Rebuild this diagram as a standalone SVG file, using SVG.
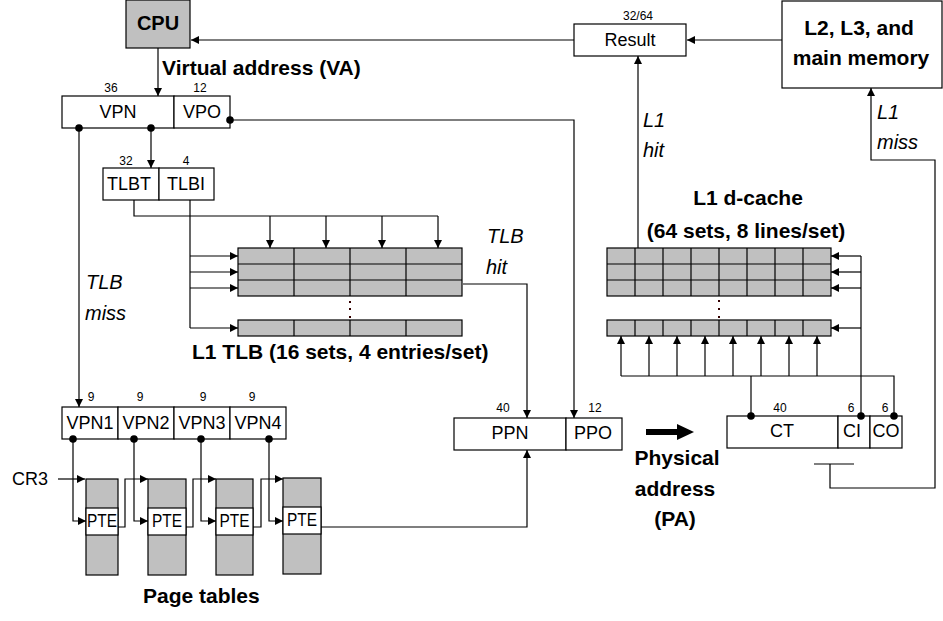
<svg xmlns="http://www.w3.org/2000/svg" width="943" height="621" viewBox="0 0 943 621">
<defs>
<marker id="ah" viewBox="0 0 10 10" refX="10" refY="5" markerWidth="8" markerHeight="8" markerUnits="userSpaceOnUse" orient="auto"><path d="M0,0 L10,5 L0,10 z" fill="#000"/></marker>
<style>
.box{fill:#fff;stroke:#000;stroke-width:1.2}
.gbox{fill:#c0c0c0;stroke:#000;stroke-width:1.2}
.ln{fill:none;stroke:#000;stroke-width:1.2}
.conn{fill:none;stroke:#000;stroke-width:1.2}
.arr{fill:none;stroke:#000;stroke-width:1.2;marker-end:url(#ah)}
.dot{fill:#000}
.t{font-family:"Liberation Sans",Arial,sans-serif;font-size:18px;fill:#000;text-anchor:middle}
.n{font-family:"Liberation Sans",Arial,sans-serif;font-size:12px;fill:#000;text-anchor:middle}
.b{font-family:"Liberation Sans",Arial,sans-serif;font-size:21px;font-weight:bold;fill:#000}
.i{font-family:"Liberation Sans",Arial,sans-serif;font-size:20px;font-style:italic;fill:#000}
.c{text-anchor:middle}
</style>
</defs>
<rect width="943" height="621" fill="#fff"/>

<g id="cpu">
<rect class="gbox" x="126" y="0" width="64" height="48"/>
<text class="b c" x="158" y="30" style="font-size:20px">CPU</text>
</g>
<g id="va-label"><text class="b" x="162" y="75">Virtual address (VA)</text></g>

<g id="vpn-vpo">
<rect class="box" x="62" y="96" width="112" height="32"/>
<rect class="box" x="174" y="96" width="56" height="32"/>
<text class="n" x="111" y="92">36</text>
<text class="n" x="200" y="92">12</text>
<text class="t" x="118" y="118">VPN</text>
<text class="t" x="202" y="118">VPO</text>
</g>

<g id="tlbt-tlbi">
<rect class="box" x="103" y="168" width="56" height="32"/>
<rect class="box" x="159" y="168" width="55" height="32"/>
<text class="n" x="126" y="165">32</text>
<text class="n" x="186" y="165">4</text>
<text class="t" x="129" y="190">TLBT</text>
<text class="t" x="186" y="190">TLBI</text>
</g>

<g id="l1-tlb">
<rect class="gbox" x="238" y="248" width="224" height="48"/>
<path class="ln" d="M238,264 H462 M238,280 H462 M294,248 V296 M350,248 V296 M406,248 V296"/>
<rect class="gbox" x="238" y="320" width="224" height="16"/>
<path class="ln" d="M294,320 V336 M350,320 V336 M406,320 V336"/>
<rect x="349" y="301" width="2" height="2" fill="#300"/>
<rect x="349" y="308" width="2" height="2" fill="#300"/>
<rect x="349" y="316" width="2" height="2" fill="#300"/>
<text class="b" x="192" y="359">L1 TLB (16 sets, 4 entries/set)</text>
</g>

<g id="tlb-labels">
<text class="i" x="487" y="243">TLB</text>
<text class="i" x="486" y="274">hit</text>
<text class="i" x="86" y="289">TLB</text>
<text class="i" x="85" y="320">miss</text>
</g>

<g id="vpn-parts">
<rect class="box" x="62" y="407" width="56" height="32"/>
<rect class="box" x="118" y="407" width="56" height="32"/>
<rect class="box" x="174" y="407" width="56" height="32"/>
<rect class="box" x="230" y="407" width="56" height="32"/>
<text class="n" x="91" y="401">9</text>
<text class="n" x="140" y="401">9</text>
<text class="n" x="203" y="401">9</text>
<text class="n" x="252" y="401">9</text>
<text class="t" x="90" y="429">VPN1</text>
<text class="t" x="146" y="429">VPN2</text>
<text class="t" x="202" y="429">VPN3</text>
<text class="t" x="258" y="429">VPN4</text>
</g>

<g id="cr3"><text class="t" x="12" y="485" style="text-anchor:start">CR3</text></g>

<g id="page-tables">
<g id="pt1">
<rect class="gbox" x="86" y="479" width="32" height="96"/>
<rect class="box" x="86" y="508" width="32" height="27"/>
<text class="t" x="102" y="527" textLength="30" lengthAdjust="spacingAndGlyphs">PTE</text>
</g>
<g id="pt2">
<rect class="gbox" x="148" y="479" width="38" height="96"/>
<rect class="box" x="148" y="508" width="38" height="27"/>
<text class="t" x="167" y="527" textLength="30" lengthAdjust="spacingAndGlyphs">PTE</text>
</g>
<g id="pt3">
<rect class="gbox" x="216" y="479" width="37" height="96"/>
<rect class="box" x="216" y="508" width="37" height="27"/>
<text class="t" x="234.5" y="527" textLength="30" lengthAdjust="spacingAndGlyphs">PTE</text>
</g>
<g id="pt4">
<rect class="gbox" x="283" y="478" width="38" height="96"/>
<rect class="box" x="283" y="507" width="38" height="27"/>
<text class="t" x="302" y="526" textLength="30" lengthAdjust="spacingAndGlyphs">PTE</text>
</g>
<text class="b" x="143" y="603">Page tables</text>
</g>

<g id="ppn-ppo">
<rect class="box" x="454" y="418" width="112" height="32"/>
<rect class="box" x="566" y="418" width="56" height="32"/>
<text class="n" x="503" y="412">40</text>
<text class="n" x="595" y="412">12</text>
<text class="t" x="510" y="439">PPN</text>
<text class="t" x="593" y="439">PPO</text>
</g>

<g id="pa-label">
<polygon points="646,429 677,429 677,424 694,432 677,440 677,435 646,435" fill="#000"/>
<text class="b c" x="677" y="465">Physical</text>
<text class="b c" x="675" y="496">address</text>
<text class="b c" x="675" y="526">(PA)</text>
</g>

<g id="result">
<rect class="box" x="574" y="24" width="112" height="32"/>
<text class="n" x="638" y="20">32/64</text>
<text class="t" x="630" y="46">Result</text>
</g>

<g id="l2-memory">
<rect class="box" x="782" y="1" width="160" height="87"/>
<text class="b c" x="859" y="35">L2, L3, and</text>
<text class="b c" x="861" y="65">main memory</text>
</g>

<g id="l1-labels">
<text class="i" x="643" y="127">L1</text>
<text class="i" x="643" y="157">hit</text>
<text class="i" x="877" y="119">L1</text>
<text class="i" x="877" y="149">miss</text>
</g>

<g id="l1-dcache">
<text class="b c" x="748" y="205">L1 d-cache</text>
<text class="b c" x="746" y="238">(64 sets, 8 lines/set)</text>
<rect class="gbox" x="607" y="248" width="224" height="48"/>
<path class="ln" d="M607,264 H831 M607,280 H831 M635,248 V296 M663,248 V296 M691,248 V296 M719,248 V296 M747,248 V296 M775,248 V296 M803,248 V296"/>
<rect class="gbox" x="607" y="320" width="224" height="16"/>
<path class="ln" d="M635,320 V336 M663,320 V336 M691,320 V336 M719,320 V336 M747,320 V336 M775,320 V336 M803,320 V336"/>
<rect x="718" y="300" width="2" height="2" fill="#300"/>
<rect x="718" y="308" width="2" height="2" fill="#300"/>
<rect x="718" y="316" width="2" height="2" fill="#300"/>
</g>

<g id="ct-ci-co">
<rect class="box" x="727" y="416" width="111" height="32"/>
<rect class="box" x="838" y="416" width="32" height="32"/>
<rect class="box" x="870" y="416" width="32" height="32"/>
<text class="n" x="780" y="412">40</text>
<text class="n" x="851" y="412">6</text>
<text class="n" x="885" y="412">6</text>
<text class="t" x="782" y="437">CT</text>
<text class="t" x="852" y="437">CI</text>
<text class="t" x="886" y="437">CO</text>
</g>

<g id="connectors">
<path class="arr" d="M574,40 L191,40"/>
<path class="arr" d="M158,48 L158,96"/>
<path class="arr" d="M151,128 L151,168"/>
<path class="arr" d="M79,128 L79,407"/>
<path class="arr" d="M230,120 L574,120 L574,418"/>
<path class="conn" d="M134,200 L134,216 L438,216"/>
<path class="arr" d="M270,216 L270,248"/>
<path class="arr" d="M326,216 L326,248"/>
<path class="arr" d="M382,216 L382,248"/>
<path class="arr" d="M438,216 L438,248"/>
<path class="conn" d="M190,200 L190,328"/>
<path class="arr" d="M190,256 L238,256"/>
<path class="arr" d="M190,272 L238,272"/>
<path class="arr" d="M190,288 L238,288"/>
<path class="arr" d="M190,328 L238,328"/>
<path class="arr" d="M463,284 L527,284 L527,418"/>
<path class="arr" d="M58,479 L85,479"/>
<path class="arr" d="M73,439 L73,521 L86,521"/>
<path class="arr" d="M134,439 L134,521 L148,521"/>
<path class="arr" d="M201,439 L201,521 L216,521"/>
<path class="arr" d="M269,439 L269,521 L283,521"/>
<path class="arr" d="M118,527 L125,527 L125,479 L148,479"/>
<path class="arr" d="M186,527 L193,527 L193,479 L216,479"/>
<path class="arr" d="M253,527 L261,527 L261,479 L283,479"/>
<path class="arr" d="M321,527 L527,527 L527,450"/>
<path class="arr" d="M782,40 L687,40"/>
<path class="arr" d="M638,248 L638,56"/>
<path class="conn" d="M861,416 L861,256"/>
<path class="arr" d="M861,256 L831,256"/>
<path class="arr" d="M861,272 L831,272"/>
<path class="arr" d="M861,288 L831,288"/>
<path class="arr" d="M861,328 L831,328"/>
<path class="conn" d="M751,416 L751,376"/>
<path class="conn" d="M621,376 L894,376 L894,416"/>
<path class="arr" d="M621,376 L621,336"/>
<path class="arr" d="M649,376 L649,336"/>
<path class="arr" d="M677,376 L677,336"/>
<path class="arr" d="M705,376 L705,336"/>
<path class="arr" d="M733,376 L733,336"/>
<path class="arr" d="M761,376 L761,336"/>
<path class="arr" d="M789,376 L789,336"/>
<path class="arr" d="M817,376 L817,336"/>
<path class="conn" d="M814,464 L854,464"/>
<path class="arr" d="M830,464 L830,488 L935,488 L935,160 L871,160 L871,88"/>
<circle class="dot" cx="79" cy="128" r="3.8"/>
<circle class="dot" cx="151" cy="128" r="3.8"/>
<circle class="dot" cx="230" cy="120" r="3.8"/>
<circle class="dot" cx="73" cy="439" r="3.8"/>
<circle class="dot" cx="134" cy="439" r="3.8"/>
<circle class="dot" cx="201" cy="439" r="3.8"/>
<circle class="dot" cx="269" cy="439" r="3.8"/>
<circle class="dot" cx="751" cy="416" r="3.8"/>
<circle class="dot" cx="861" cy="416" r="3.8"/>
<circle class="dot" cx="894" cy="416" r="3.8"/>
</g>
</svg>
